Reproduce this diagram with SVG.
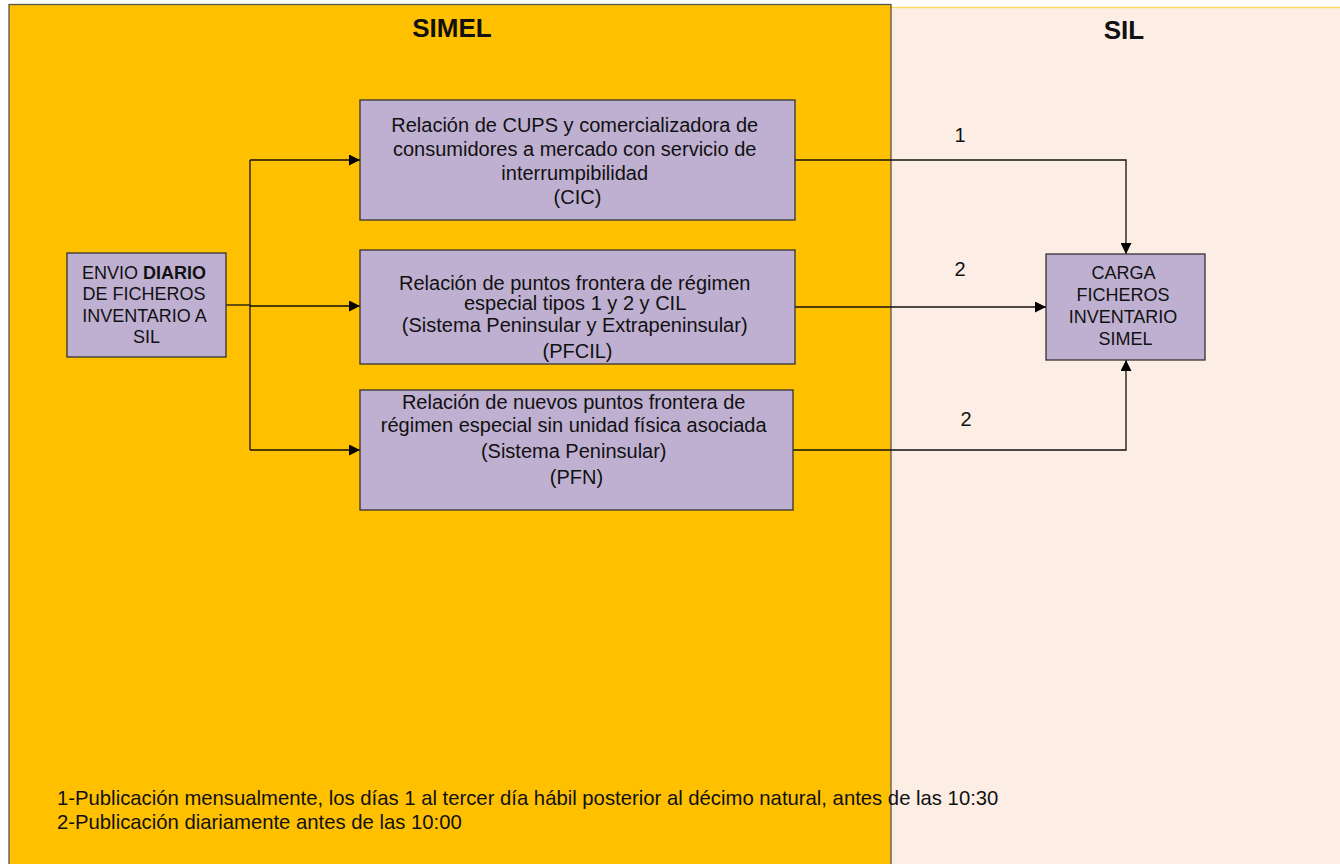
<svg xmlns="http://www.w3.org/2000/svg" width="1340" height="864" viewBox="0 0 1340 864">
<defs>
<style>
.t{font-family:"Liberation Sans",Arial,sans-serif;fill:#111;}
.box{fill:#BFB0D2;stroke:#333;stroke-width:1.3;}
.c{fill:none;stroke:#111;stroke-width:1.3;}
</style>
<marker id="ah" viewBox="0 0 10 10" refX="10" refY="5" markerWidth="11" markerHeight="11" markerUnits="userSpaceOnUse" orient="auto">
<path d="M0,0 L10,5 L0,10 Z" fill="#000"/>
</marker>
</defs>
<g id="lane-sil">
<rect x="891" y="7" width="452" height="860" fill="#FCEEE4"/>
<line x1="891" y1="7.5" x2="1340" y2="7.5" stroke="#FFD966" stroke-width="1.5"/>
<text class="t" x="1124" y="39" font-size="26" font-weight="bold" text-anchor="middle">SIL</text>
</g>
<g id="lane-simel">
<rect x="9" y="4.5" width="882" height="862" fill="#FFC000" stroke="#555" stroke-width="1.3"/>
<text class="t" x="452" y="37" font-size="26" font-weight="bold" text-anchor="middle">SIMEL</text>
</g>
<g id="connectors">
<polyline class="c" points="226,305 250,305"/>
<polyline class="c" points="250,160 250,450"/>
<polyline class="c" points="250,160 360,160" marker-end="url(#ah)"/>
<polyline class="c" points="250,306 360,306" marker-end="url(#ah)"/>
<polyline class="c" points="250,450 360,450" marker-end="url(#ah)"/>
<polyline class="c" points="795,160 1126,160 1126,254" marker-end="url(#ah)"/>
<polyline class="c" points="795,307 1046,307" marker-end="url(#ah)"/>
<polyline class="c" points="793,450 1126,450 1126,360" marker-end="url(#ah)"/>
<text class="t" x="960" y="142" font-size="20" text-anchor="middle">1</text>
<text class="t" x="960" y="276" font-size="20" text-anchor="middle">2</text>
<text class="t" x="966" y="426" font-size="20" text-anchor="middle">2</text>
</g>
<g id="envio">
<rect class="box" x="67" y="253" width="159" height="104"/>
<text class="t" font-size="18" text-anchor="middle">
<tspan x="146.5" y="279">ENVIO <tspan font-weight="bold">DIARIO</tspan></tspan>
<tspan x="146.5" y="300">DE FICHEROS</tspan>
<tspan x="146.5" y="322">INVENTARIO A</tspan>
<tspan x="146.5" y="343">SIL</tspan>
</text>
</g>
<g id="cic">
<rect class="box" x="360" y="100" width="435" height="120"/>
<text class="t" font-size="20" text-anchor="middle">
<tspan x="577.5" y="132">Relación de CUPS y comercializadora de</tspan>
<tspan x="577.5" y="156">consumidores a mercado con servicio de</tspan>
<tspan x="577.5" y="180">interrumpibilidad</tspan>
<tspan x="577.5" y="204">(CIC)</tspan>
</text>
</g>
<g id="pfcil">
<rect class="box" x="360" y="250" width="435" height="114"/>
<text class="t" font-size="20" text-anchor="middle">
<tspan x="577.5" y="290">Relación de puntos frontera de régimen</tspan>
<tspan x="577.5" y="310">especial tipos 1 y 2 y CIL</tspan>
<tspan x="577.5" y="332">(Sistema Peninsular y Extrapeninsular)</tspan>
<tspan x="577.5" y="358">(PFCIL)</tspan>
</text>
</g>
<g id="pfn">
<rect class="box" x="360" y="390" width="433" height="120"/>
<text class="t" font-size="20" text-anchor="middle">
<tspan x="576.5" y="409">Relación de nuevos puntos frontera de</tspan>
<tspan x="576.5" y="432">régimen especial sin unidad física asociada</tspan>
<tspan x="576.5" y="458">(Sistema Peninsular)</tspan>
<tspan x="576.5" y="484">(PFN)</tspan>
</text>
</g>
<g id="carga">
<rect class="box" x="1046" y="254" width="159" height="106"/>
<text class="t" font-size="18" text-anchor="middle">
<tspan x="1125.5" y="279">CARGA</tspan>
<tspan x="1125.5" y="301">FICHEROS</tspan>
<tspan x="1125.5" y="323">INVENTARIO</tspan>
<tspan x="1125.5" y="345">SIMEL</tspan>
</text>
</g>
<g id="notes">
<text class="t" font-size="20.3" x="57" y="805">1-Publicación mensualmente, los días 1 al tercer día hábil posterior al décimo natural, antes de las 10:30</text>
<text class="t" font-size="20.3" x="57" y="829">2-Publicación diariamente antes de las 10:00</text>
</g>
</svg>
